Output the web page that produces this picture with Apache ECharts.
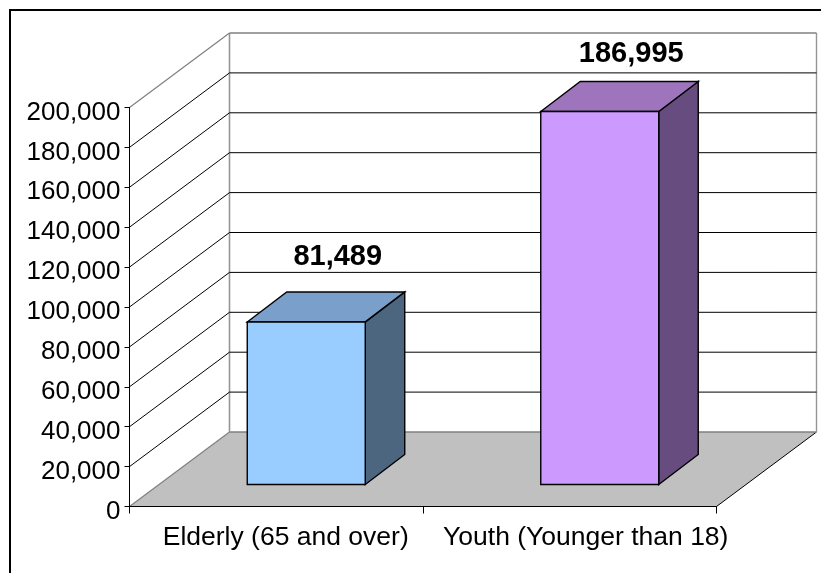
<!DOCTYPE html>
<html><head><meta charset="utf-8">
<style>html,body{margin:0;padding:0;background:#fff}#c{width:821px;height:573px}</style>
<script src="https://cdn.jsdelivr.net/npm/echarts@6/dist/echarts.min.js"></script>
</head><body><div id="c"></div>
<script>
var categories = ['Elderly (65 and over)', 'Youth (Younger than 18)'];
var values = [81489, 186995];
var valueLabels = ['81,489', '186,995'];
var ticks = [0, 20000, 40000, 60000, 80000, 100000, 120000, 140000, 160000, 180000, 200000];
var frontColors = ['#99ccff', '#cc99ff'];
var topColors = ['#7a9fca', '#9e74bd'];
var sideColors = ['#4d667f', '#664c7f'];
var WALL = [100, -74.5];
var BAR_SHIFT = [30, -22];
var BAR_DEPTH = [39.5, -30];
var LABEL_LIFT = [64.5, 57];

function fmt(v){ return String(v).replace(/\B(?=(\d{3})+$)/g, ','); }
function poly(points, fill, stroke, w, z){
  return {type:'polygon', z2:z||1, shape:{points:points},
    style:{fill:fill, stroke:stroke, lineWidth:w}};
}
function line(a, b, color, w, z){
  return {type:'line', z2:z||1, shape:{x1:a[0],y1:a[1],x2:b[0],y2:b[1]},
    style:{stroke:color, lineWidth:w, fill:null}};
}
function off(p, d){ return [p[0]+d[0], p[1]+d[1]]; }

var chart = echarts.init(document.getElementById('c'), null, {renderer:'canvas'});
chart.setOption({
  animation:false,
  backgroundColor:'#ffffff',
  graphic:[
    {type:'line', shape:{x1:10,y1:10,x2:821,y2:10}, style:{stroke:'#000',lineWidth:2}},
    {type:'line', shape:{x1:10,y1:9,x2:10,y2:573}, style:{stroke:'#000',lineWidth:2}}
  ],
  grid:{left:129.5, top:107.5, width:587, height:399},
  xAxis:{type:'category', data:categories, boundaryGap:true,
    axisLine:{show:true, lineStyle:{color:'#000',width:1}},
    axisTick:{show:true, length:7, alignWithLabel:false, lineStyle:{color:'#000'}},
    axisLabel:{color:'#000', fontFamily:'Liberation Sans', fontSize:26.5, margin:18,
      hideOverlap:false, interval:0,
      formatter:function(v){ return (v===categories[0]?'{a|':'{b|')+v+'}'; },
      rich:{
        a:{fontFamily:'Liberation Sans', fontSize:26.5, color:'#000', padding:[0,0,0,19]},
        b:{fontFamily:'Liberation Sans', fontSize:26.5, color:'#000', padding:[0,0,0,32]}
      }},
    splitLine:{show:false}, z:5},
  yAxis:{type:'value', min:0, max:200000, interval:20000,
    axisLine:{show:true, lineStyle:{color:'#000',width:1}},
    axisTick:{show:true, length:5, lineStyle:{color:'#000'}},
    axisLabel:{color:'#000', fontFamily:'Liberation Sans', fontSize:26, margin:9,
      verticalAlign:'top', lineHeight:10,
      formatter:function(v){return fmt(v);}},
    splitLine:{show:false}, z:5},
  series:[
    { // floor and back wall, drawn from the axis scale
      type:'custom', coordinateSystem:'cartesian2d', silent:true, z:1, clip:false,
      data:[[0,0]], encode:{x:0,y:1},
      renderItem:function(params, api){
        var band = api.size([1,0])[0];
        var o = api.coord([0,0]); var l = [o[0]-band/2, o[1]];
        var r = [l[0]+band*categories.length, o[1]];
        var t = api.coord([0,200000]); var tl = [l[0], t[1]];
        var ch = [
          poly([off(l,WALL), off(r,WALL), off([r[0],tl[1]],WALL), off(tl,WALL)], '#ffffff', null, 0, 1),
          poly([l, r, off(r,WALL), off(l,WALL)], '#c0c0c0', null, 0, 2),
          line(l, off(l,WALL), '#808080', 1.2, 3),
          line(r, off(r,WALL), '#000000', 1, 3),
          line(off(l,WALL), off(r,WALL), '#808080', 1.6, 3),
          line(off(l,WALL), off(tl,WALL), '#969696', 1.6, 3),
          line(off(r,WALL), off([r[0],tl[1]],WALL), '#969696', 1.4, 3)
        ];
        ticks.forEach(function(v){
          if(v===0) return;
          var y = api.coord([0,v])[1];
          var a=[l[0],y], b=off(a,WALL), c=[r[0]+WALL[0], b[1]];
          var top = v===200000;
          ch.push(line(a,b, top?'#808080':'#000000', top?1.2:1, 3));
          ch.push(line(b,c, top?'#808080':'#000000', top?1.6:1, 3));
        });
        return {type:'group', children:ch};
      }
    },
    { // 3D bars
      type:'custom', coordinateSystem:'cartesian2d', silent:true, z:3, clip:false,
      data:values.map(function(v,i){return [i,v];}), encode:{x:0,y:1},
      renderItem:function(params, api){
        var i = api.value(0), v = api.value(1);
        var band = api.size([1,0])[0], w = band*0.402;
        var cx = api.coord([i,0])[0];
        var y0 = api.coord([i,0])[1], y1 = api.coord([i,v])[1];
        var bl = off([cx-w/2,y0],BAR_SHIFT), br = off([cx+w/2,y0],BAR_SHIFT);
        var tl = off([cx-w/2,y1],BAR_SHIFT), tr = off([cx+w/2,y1],BAR_SHIFT);
        var s = '#000000', lw = 1.4;
        return {type:'group', children:[
          poly([br, off(br,BAR_DEPTH), off(tr,BAR_DEPTH), tr], sideColors[i], s, lw, 1),
          poly([tl, tr, off(tr,BAR_DEPTH), off(tl,BAR_DEPTH)], topColors[i], s, lw, 1),
          poly([bl, br, tr, tl], frontColors[i], s, lw, 2),
          {type:'text', z2:3, x:cx+BAR_SHIFT[0]+31.5, y:y1+BAR_SHIFT[1]-LABEL_LIFT[i],
            style:{text:valueLabels[i], fill:'#000', font:'bold 29px "Liberation Sans"',
              align:'center', verticalAlign:'middle'}}
        ]};
      }
    }
  ]
});
</script></body></html>
